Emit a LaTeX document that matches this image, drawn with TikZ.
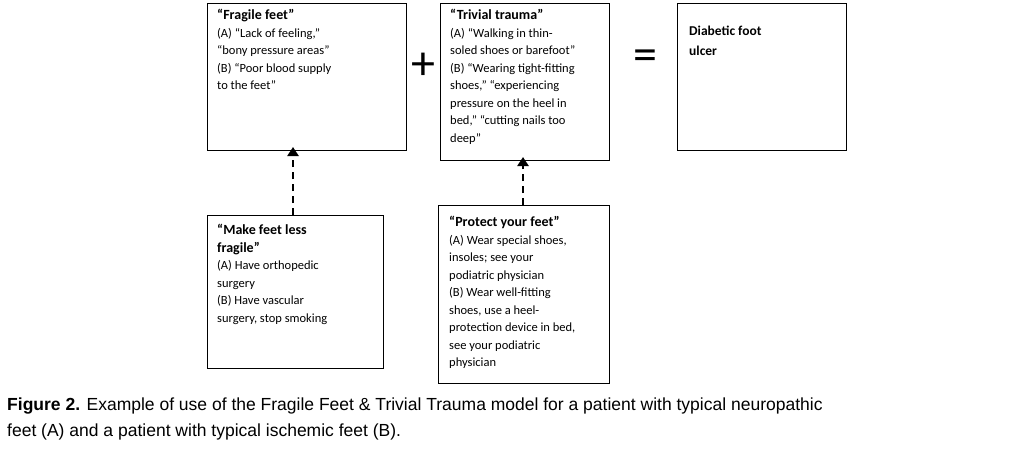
\documentclass[tikz,border=0pt]{standalone}
\usepackage{fontspec}
\setmainfont{Carlito}
\newfontfamily\capfont{Liberation Sans}
\newcommand\hdf{\bfseries\fontsize{14}{17.5}\selectfont}
\usetikzlibrary{arrows.meta}
\begin{document}
\begin{tikzpicture}[x=1pt,y=-1pt,
  box/.style={draw,line width=1pt},
  txt/.style={anchor=north west,align=left,inner sep=0pt,font=\fontsize{12.5}{17.5}\selectfont},
  dasharrow/.style={line width=2.5pt,dash pattern=on 7pt off 5pt,-{Triangle[length=9pt,width=11pt]}}]
\useasboundingbox (0,0) rectangle (1024,450);
\draw[box] (207,3) rectangle (406,150);
\coordinate (b1) at (293,150);
\node[txt] (t1) at (217,9) {{\hdf “Fragile feet”}\\(A) “Lack of feeling,”\\“bony pressure areas”\\(B) “Poor blood supply\\to the feet”};
\draw[box] (440,3) rectangle (609,160);
\coordinate (b2) at (523,160);
\node[txt] (t2) at (450,9) {{\hdf “Trivial trauma”}\\(A) “Walking in thin-\\soled shoes or barefoot”\\(B) “Wearing tight-fitting\\shoes,” “experiencing\\pressure on the heel in\\bed,” “cutting nails too\\deep”};
\draw[box] (677,3) rectangle (846,150);
\node[txt,font=\bfseries\fontsize{13.5}{20}\selectfont] (t3) at (689,26) {Diabetic foot\\ulcer};
\node (plus) at (423,66) {\fontsize{48}{48}\selectfont +};
\node (eq) at (645,60) {\fontsize{48}{48}\selectfont =};
\draw[box] (207,215) rectangle (383,368);
\coordinate (b4) at (293,215);
\node[txt] (t4) at (217,224) {{\hdf “Make feet less}\\{\hdf fragile”}\\(A) Have orthopedic\\surgery\\(B) Have vascular\\surgery, stop smoking};
\draw[box] (438,205) rectangle (609,383);
\coordinate (b5) at (523,205);
\node[txt] (t5) at (449,216) {{\hdf “Protect your feet”}\\(A) Wear special shoes,\\insoles; see your\\podiatric physician\\(B) Wear well-fitting\\shoes, use a heel-\\protection device in bed,\\see your podiatric\\physician};
\draw[dasharrow] (b4) -- ([yshift=3]b1);
\draw[dasharrow] (b5) -- ([yshift=3]b2);
\node[anchor=north west,align=left,inner sep=0pt,font=\capfont\fontsize{17.5}{26}\selectfont] (cap) at (7,398) {\textbf{Figure 2.} Example of use of the Fragile Feet \& Trivial Trauma model for a patient with typical neuropathic\\feet (A) and a patient with typical ischemic feet (B).};
\end{tikzpicture}
\end{document}
